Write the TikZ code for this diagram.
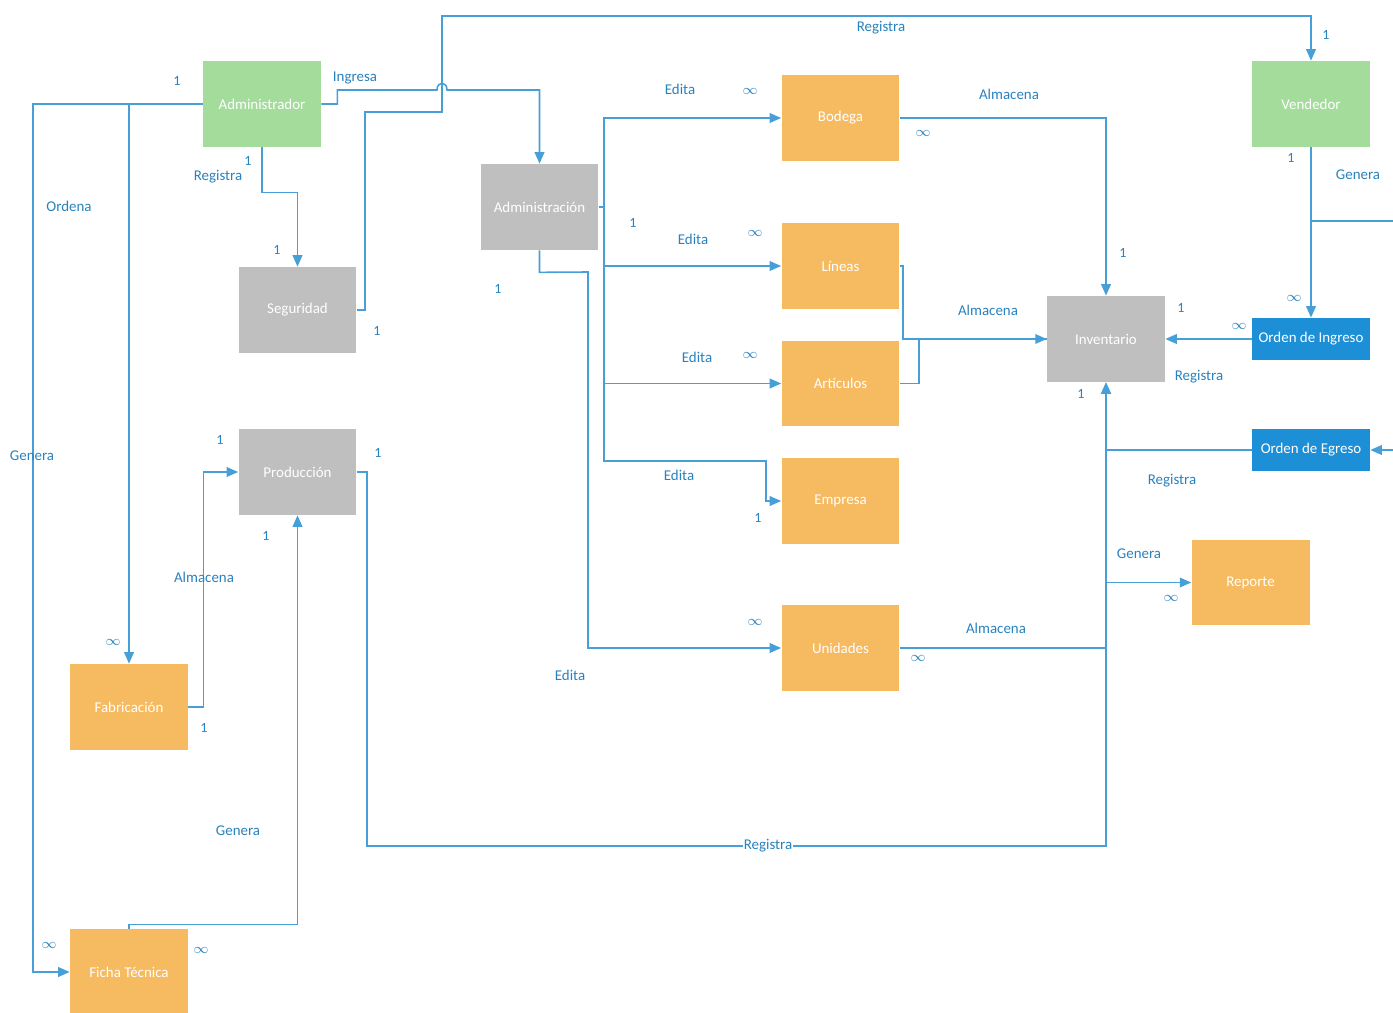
\documentclass[tikz,border=0pt]{standalone}
\usepackage{fontspec}
\setmainfont{Carlito}
\usetikzlibrary{arrows.meta}

\definecolor{linkblue}{RGB}{70,160,215}
\definecolor{labblue}{RGB}{40,130,190}
\definecolor{actgreen}{RGB}{164,220,156}
\definecolor{modgray}{RGB}{191,191,191}
\definecolor{tblorange}{RGB}{246,186,96}
\definecolor{docblue}{RGB}{28,143,214}

\begin{document}
\begin{tikzpicture}[x=0.02cm, y=-0.02cm, font=\fontsize{8.5}{10}\selectfont,
  >={Triangle[length=6.5pt, width=5.5pt]},
  bx/.style={inner sep=0pt, minimum width=2.36cm, minimum height=1.72cm, text=white},
  actor/.style={bx, fill=actgreen},
  modulo/.style={bx, fill=modgray},
  tabla/.style={bx, fill=tblorange},
  orden/.style={bx, fill=docblue, minimum height=0.84cm},
  lnk/.style={draw=linkblue, line width=0.9pt},
  rel/.style={lnk, ->},
  lbl/.style={text=labblue, inner sep=1pt},
  card/.style={lbl, font=\fontsize{8}{9}\selectfont}]
\useasboundingbox (0,0) rectangle (1393,1013);
% Actors.
\node[actor] (administrador) at (262,104) {Administrador};
\node[actor] (vendedor) at (1311,104) {Vendedor};
% Modules.
\node[modulo] (seguridad) at (297.5,310) {Seguridad};
\node[modulo] (administracion) at (539.5,207) {Administración};
\node[modulo] (produccion) at (297.5,472) {Producción};
\node[modulo] (inventario) at (1106,339) {Inventario};
% Tables.
\node[tabla] (bodega) at (840.5,118) {Bodega};
\node[tabla] (lineas) at (840.5,266) {Líneas};
\node[tabla] (articulos) at (840.5,383.5) {Artículos};
\node[tabla] (empresa) at (840.5,501) {Empresa};
\node[tabla] (unidades) at (840.5,648) {Unidades};
\node[tabla] (reporte) at (1250.5,582.5) {Reporte};
\node[tabla] (fabricacion) at (129,707) {Fabricación};
\node[tabla] (ficha) at (129,972) {Ficha Técnica};
% Orders.
\node[orden] (ingreso) at (1311,339) {Orden de Ingreso};
\node[orden] (egreso) at (1311,450) {Orden de Egreso};
% Loose ends leaving the page on the right.
\coordinate (genleft) at (33,104);
\coordinate (genout) at (1400,221);
\coordinate (egin) at (1400,450);
\coordinate (regjoin) at (1106,846);

% Administrador links.
\draw[rel] (administrador.west) -- (genleft) |- (ficha.west);
\draw[rel] (administrador.west -| fabricacion.north) -- (fabricacion.north);
\draw[rel] (administrador.east) -- ++(16,0) |- (437,90)
  .. controls (437,81) and (447,81) .. (447,90) -| (administracion.north);
\draw[rel] (administrador.south) -- ++(0,45) -| (seguridad.north);
\draw[rel] (seguridad.east) -- ++(8,0) |- (442,112) -- (442,16) -| (vendedor.north);
% Administracion edits the tables.
\draw[rel] (administracion.east) -- ++(5,0) |- (bodega.west);
\draw[rel] (administracion.east) -- ++(5,0) |- (lineas.west);
\draw[rel] (administracion.east) -- ++(5,0) |- (articulos.west);
\draw[rel] (administracion.east) -- ++(5,0) |- (766,461) |- (empresa.west);
\draw[rel] (administracion.south) -- ++(0,22) -- (588,272) |- (unidades.west);
% Tables stored in Inventario.
\draw[rel] (bodega.east) -| (inventario.north);
\draw[rel] (lineas.east) -- ++(3,0) |- (inventario.west);
\draw[lnk] (articulos.east) -- ++(19,0) |- (inventario.west);
\draw[rel] (unidades.east) -| (inventario.south);
\draw[rel] (produccion.east) -- ++(10,0) |- (regjoin) -- (inventario.south);
\draw[lnk] (egreso.west) -- (egreso.west -| inventario.south);
\draw[rel] (egin) -- (egreso.east);
\draw[rel] (inventario.south |- reporte.west) -- (reporte.west);
% Vendedor and orders.
\draw[rel] (vendedor.south) -- (ingreso.north);
\draw[lnk] (vendedor.south |- genout) -- (genout);
\draw[rel] (ingreso.west) -- (inventario.east);
% Produccion side.
\draw[rel] (fabricacion.east) -- ++(15,0) |- (produccion.west);
\draw[rel] (ficha.north) -- ++(0,-4) -| (produccion.south);

% Relation names.
\node[lbl] (lIngresa) at (355,78) {Ingresa};
\node[lbl] (lRegSeg) at (218,177) {Registra};
\node[lbl] (lOrdena) at (69,206) {Ordena};
\node[lbl] (lGenFicha) at (32,456) {Genera};
\node[lbl] (lRegVen) at (881,28) {Registra};
\node[lbl] (lEdBod) at (680,89) {Edita};
\node[lbl] (lEdLin) at (693,239) {Edita};
\node[lbl] (lEdArt) at (697,357) {Edita};
\node[lbl] (lEdEmp) at (679,475) {Edita};
\node[lbl] (lEdUni) at (570,675) {Edita};
\node[lbl] (lAlmBod) at (1009,94) {Almacena};
\node[lbl] (lAlmLin) at (988,310) {Almacena};
\node[lbl] (lAlmUni) at (996,628) {Almacena};
\node[lbl] (lAlmFab) at (204,577) {Almacena};
\node[lbl] (lGenProd) at (238,831) {Genera};
\node[lbl, fill=white, inner sep=0.5pt] (lRegProd) at (768,846) {Registra};
\node[lbl] (lRegIng) at (1199,377) {Registra};
\node[lbl] (lRegEgr) at (1172,481) {Registra};
\node[lbl] (lGenRep) at (1139,554) {Genera};
\node[lbl] (lGenVen) at (1358,175) {Genera};
% Cardinalities.
\node[card] (c1) at (177,81) {1};   \node[card] (c2) at (248,161) {1};
\node[card] (c3) at (277,250) {1};  \node[card] (c4) at (377,331) {1};
\node[card] (c5) at (498,289) {1};  \node[card] (c6) at (633,223) {1};
\node[card] (c7) at (758,518) {1};  \node[card] (c8) at (1123,253) {1};
\node[card] (c9) at (1181,308) {1}; \node[card] (c10) at (1081,394) {1};
\node[card] (c11) at (1326,35) {1}; \node[card] (c12) at (1291,158) {1};
\node[card] (c13) at (378,453) {1}; \node[card] (c14) at (220,440) {1};
\node[card] (c15) at (266,536) {1}; \node[card] (c16) at (204,728) {1};
\node[card] (m1) at (750,91) {$\infty$};   \node[card] (m2) at (923,133) {$\infty$};
\node[card] (m3) at (755,233) {$\infty$};  \node[card] (m4) at (750,355) {$\infty$};
\node[card] (m5) at (755,622) {$\infty$};  \node[card] (m6) at (918,658) {$\infty$};
\node[card] (m7) at (1171,598) {$\infty$}; \node[card] (m8) at (1294,298) {$\infty$};
\node[card] (m9) at (1239,326) {$\infty$}; \node[card] (m10) at (113,642) {$\infty$};
\node[card] (m11) at (49,945) {$\infty$};  \node[card] (m12) at (201,950) {$\infty$};
\end{tikzpicture}
\end{document}
